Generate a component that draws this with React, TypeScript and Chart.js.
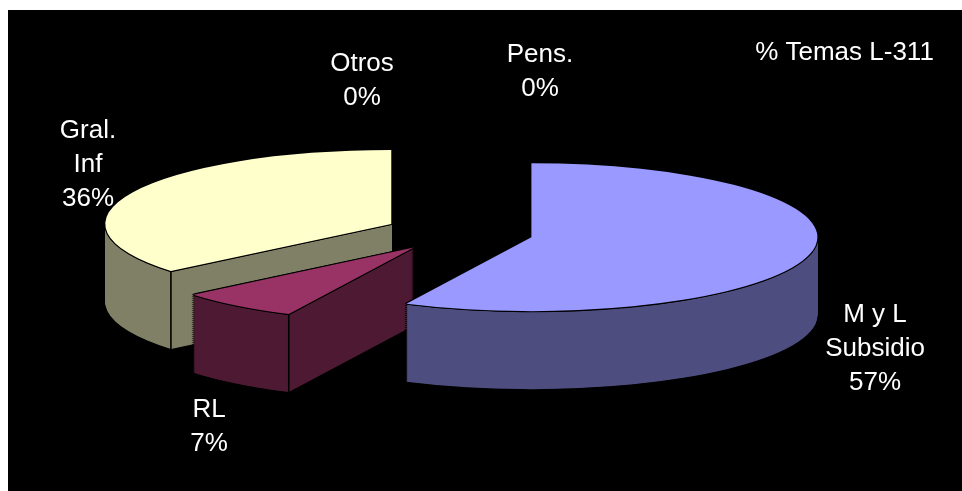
import React, { useEffect, useRef } from "react";
import { Chart, registerables } from "chart.js";

Chart.register(...registerables);

const categories = ["M y L Subsidio", "RL", "Gral. Inf", "Otros", "Pens."];
const categoryLines = [["M y L", "Subsidio"], ["RL"], ["Gral.", "Inf"], ["Otros"], ["Pens."]];
const shares = [57.2, 6.8, 36, 0, 0];
const chartTitle = "% Temas L-311";

const topColors = ["#9999FF", "#993366", "#FFFFCC", "#660066", "#FF8080"];
const wallColors = ["#4D4D80", "#4D1933", "#808066", "#330033", "#804040"];
const explode = [63, 91, 87, 0, 0];
const sliceLift = [0, -4.5, 0, 0, 0];
const drawOrder = [2, 1, 0];
const labelCenters = [
  [875, 315],
  [209, 410],
  [88, 131],
  [362, 64],
  [540, 55],
];
const titleCenter = [844.5, 53];
const labelFont = "26px 'Liberation Sans', Arial, sans-serif";
const lineGap = 34;
const tilt = 0.2587;
const depth = 78;

const pie3d = {
  id: "pie3d",
  beforeDatasetsDraw(chart: any) {
    const ctx = chart.ctx;
    const arcs = chart.getDatasetMeta(0).data;

    const place = (arc: any, i: number) => {
      const mid = (arc.startAngle + arc.endAngle) / 2;
      return {
        x: arc.x + Math.cos(mid) * explode[i],
        y: arc.y + Math.sin(mid) * explode[i] * tilt + sliceLift[i],
      };
    };

    const paint = (target: any, arc: any, i: number, color: string, dx: number, dy: number) => {
      const c = place(arc, i);
      const saved = arc.options;
      arc.options = { ...saved, backgroundColor: color, borderWidth: 0 };
      target.save();
      target.translate(c.x + dx, c.y + dy);
      target.scale(1, tilt);
      target.translate(-arc.x, -arc.y);
      arc.draw(target);
      target.restore();
      arc.options = saved;
    };

    for (const i of drawOrder) {
      const arc = arcs[i];
      if (!arc || arc.circumference === 0) continue;

      // black halo of the whole extruded body
      for (let d = depth; d >= 0; d -= 2) {
        paint(ctx, arc, i, "#000000", -2, d);
        paint(ctx, arc, i, "#000000", 2, d);
      }

      // wall: build the extruded mask off-screen, then flood it with one flat colour
      const off = document.createElement("canvas");
      off.width = chart.canvas.width;
      off.height = chart.canvas.height;
      const octx = off.getContext("2d") as CanvasRenderingContext2D;
      for (let d = depth; d >= 0; d -= 0.5) paint(octx, arc, i, "#000000", 0, d);
      octx.globalCompositeOperation = "source-in";
      octx.fillStyle = wallColors[i];
      octx.fillRect(0, 0, off.width, off.height);
      ctx.drawImage(off, 0, 0);

      // vertical edge at the slice's leading corner
      const c = place(arc, i);
      const px = c.x + Math.cos(arc.startAngle) * arc.outerRadius;
      const py = c.y + Math.sin(arc.startAngle) * arc.outerRadius * tilt;
      ctx.save();
      ctx.strokeStyle = "#000000";
      ctx.lineWidth = 1.6;
      ctx.beginPath();
      ctx.moveTo(px, py);
      ctx.lineTo(px, py + depth);
      ctx.stroke();
      ctx.restore();

      // outlined top face
      const ring = 1.1;
      for (let a = 0; a < 8; a++) {
        paint(ctx, arc, i, "#000000", Math.cos((a * Math.PI) / 4) * ring, Math.sin((a * Math.PI) / 4) * ring);
      }
      paint(ctx, arc, i, topColors[i], 0, 0);
    }
    return false;
  },
  afterDraw(chart: any) {
    const ctx = chart.ctx;
    ctx.save();
    ctx.fillStyle = "#FFFFFF";
    ctx.font = labelFont;
    ctx.textAlign = "center";
    ctx.textBaseline = "middle";
    categoryLines.forEach((lines, i) => {
      const [x, y] = labelCenters[i];
      [...lines, `${Math.round(shares[i])}%`].forEach((t, n) => ctx.fillText(t, x, y + n * lineGap));
    });
    ctx.fillText(chartTitle, titleCenter[0], titleCenter[1]);
    ctx.restore();
  },
};

export default function App() {
  const ref = useRef<HTMLCanvasElement | null>(null);

  useEffect(() => {
    if (!ref.current) return;
    const chart = new Chart(ref.current, {
      type: "pie",
      data: {
        labels: categories,
        datasets: [{ data: shares, backgroundColor: topColors, borderWidth: 0, radius: 286 }],
      },
      options: {
        responsive: false,
        animation: false,
        events: [],
        layout: { padding: { left: 0, top: 0, right: 22, bottom: 24 } },
        plugins: { legend: { display: false }, tooltip: { enabled: false } },
      },
      plugins: [pie3d],
    } as any);
    return () => chart.destroy();
  }, []);

  return (
    <>
      <div style={{ position: "fixed", left: 8, top: 10, right: 0, bottom: 0, background: "#000000" }} />
      <canvas
        ref={ref}
        width={962}
        height={491}
        style={{ position: "fixed", left: 0, top: 0, width: 962, height: 491, display: "block" }}
      />
    </>
  );
}
